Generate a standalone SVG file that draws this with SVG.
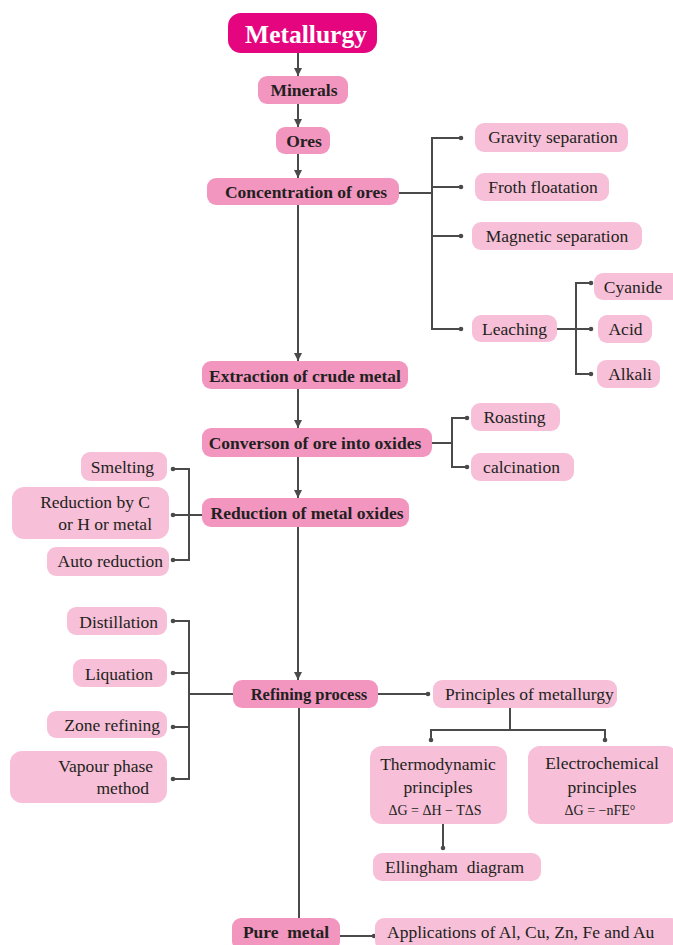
<svg xmlns="http://www.w3.org/2000/svg" width="673" height="945" viewBox="0 0 673 945">
<defs>
<style>
.top{fill:#E5067F}
.main{fill:#F296C0}
.lt{fill:#F7BFD8}
.tt{font-family:"Liberation Serif","Times New Roman",serif;font-weight:bold;font-size:25.5px;fill:#fff;text-anchor:middle}
.b{font-family:"Liberation Serif","Times New Roman",serif;font-weight:bold;font-size:17.5px;fill:#231F20;text-anchor:middle}
.r{font-family:"Liberation Serif","Times New Roman",serif;font-size:17.5px;fill:#231F20;text-anchor:middle}
.re{text-anchor:end}
.rs{text-anchor:start}
.sm{font-size:14px}
.ln{fill:none;stroke:#4A4A4A;stroke-width:2}
.dot{fill:#4A4A4A}
</style>
<marker id="ah" viewBox="0 0 8 8" refX="8" refY="4" markerWidth="8" markerHeight="8" markerUnits="userSpaceOnUse" orient="auto">
<path d="M0,0 L8,4 L0,8 z" fill="#4A4A4A"/>
</marker>
</defs>
<rect width="673" height="945" fill="#fff"/>

<g id="connectors">
<line class="ln" x1="298" y1="53" x2="298" y2="76" marker-end="url(#ah)"/>
<line class="ln" x1="298" y1="104" x2="298" y2="127" marker-end="url(#ah)"/>
<line class="ln" x1="298" y1="154" x2="298" y2="178" marker-end="url(#ah)"/>
<line class="ln" x1="298" y1="205" x2="298" y2="361" marker-end="url(#ah)"/>
<line class="ln" x1="298" y1="389" x2="298" y2="428" marker-end="url(#ah)"/>
<line class="ln" x1="298" y1="457" x2="298" y2="498" marker-end="url(#ah)"/>
<line class="ln" x1="298" y1="527" x2="298" y2="680" marker-end="url(#ah)"/>
<line class="ln" x1="299" y1="708" x2="299" y2="918"/>
<path class="ln" d="M399,193 H432 M461,138 H432 V329 H461 M432,187 H461 M432,236 H461"/>
<path class="ln" d="M557,329 H591 M591,283 H576 V374 H591"/>
<path class="ln" d="M432,443 H452 M467,418 H452 V467 H467"/>
<path class="ln" d="M202,515 H173 M173,469 H189 V560 H173"/>
<path class="ln" d="M233,694 H189 M173,621 H189 V779 H173 M173,673 H189 M173,727 H189"/>
<path class="ln" d="M378,694 H428"/>
<path class="ln" d="M510,708 V730 M431,740 V730 H605 V740"/>
<path class="ln" d="M443,824 V848"/>
<path class="ln" d="M340,936 H374"/>
<g class="dot">
<circle cx="461" cy="138" r="2.3"/><circle cx="461" cy="187" r="2.3"/><circle cx="461" cy="236" r="2.3"/><circle cx="461" cy="329" r="2.3"/>
<circle cx="591" cy="283" r="2.3"/><circle cx="591" cy="329" r="2.3"/><circle cx="591" cy="374" r="2.3"/>
<circle cx="467" cy="418" r="2.3"/><circle cx="467" cy="467" r="2.3"/>
<circle cx="173" cy="469" r="2.3"/><circle cx="173" cy="515" r="2.3"/><circle cx="173" cy="560" r="2.3"/>
<circle cx="173" cy="621" r="2.3"/><circle cx="173" cy="673" r="2.3"/><circle cx="173" cy="727" r="2.3"/><circle cx="173" cy="779" r="2.3"/>
<circle cx="428" cy="694" r="2.3"/>
<circle cx="431" cy="740" r="2.3"/><circle cx="605" cy="740" r="2.3"/>
<circle cx="443" cy="848" r="2.3"/>
<circle cx="374" cy="936" r="2.3"/>
</g>
</g>

<g id="metallurgy"><rect class="top" x="228" y="13" width="149" height="40" rx="13"/><text class="tt" x="306" y="43">Metallurgy</text></g>
<g id="minerals"><rect class="main" x="258" y="76" width="90" height="28" rx="9"/><text class="b" x="304" y="96">Minerals</text></g>
<g id="ores"><rect class="main" x="276" y="127" width="54" height="27" rx="9"/><text class="b" x="304" y="147">Ores</text></g>
<g id="concentration"><rect class="main" x="207" y="178" width="192" height="27" rx="9"/><text class="b" x="306" y="198">Concentration of ores</text></g>
<g id="extraction"><rect class="main" x="202" y="361" width="206" height="28" rx="9"/><text class="b" x="305" y="382">Extraction of crude metal</text></g>
<g id="conversion"><rect class="main" x="202" y="428" width="230" height="29" rx="9"/><text class="b" x="315" y="449">Converson of ore into oxides</text></g>
<g id="reduction"><rect class="main" x="202" y="498" width="207" height="29" rx="9"/><text class="b" x="307" y="519">Reduction of metal oxides</text></g>
<g id="refining"><rect class="main" x="233" y="680" width="145" height="28" rx="9"/><text class="b" x="309" y="700" style="font-size:16.5px">Refining process</text></g>
<g id="pure-metal"><rect class="main" x="232" y="918" width="108" height="32" rx="9"/><text class="b" x="286" y="938" xml:space="preserve">Pure  metal</text></g>

<g id="gravity"><rect class="lt" x="475" y="123" width="153" height="29" rx="9"/><text class="r" x="553" y="143">Gravity separation</text></g>
<g id="froth"><rect class="lt" x="475" y="173" width="134" height="28" rx="9"/><text class="r" x="543" y="193">Froth floatation</text></g>
<g id="magnetic"><rect class="lt" x="472" y="222" width="170" height="28" rx="9"/><text class="r" x="557" y="242">Magnetic separation</text></g>
<g id="leaching"><rect class="lt" x="472" y="315" width="85" height="27" rx="9"/><text class="r" x="514.5" y="335">Leaching</text></g>
<g id="cyanide"><rect class="lt" x="594" y="273" width="90" height="27" rx="9"/><text class="r" x="633" y="293">Cyanide</text></g>
<g id="acid"><rect class="lt" x="598" y="315" width="54" height="28" rx="9"/><text class="r" x="625.5" y="335">Acid</text></g>
<g id="alkali"><rect class="lt" x="597" y="360" width="63" height="28" rx="9"/><text class="r" x="630" y="380">Alkali</text></g>
<g id="roasting"><rect class="lt" x="471" y="403" width="89" height="28" rx="9"/><text class="r" x="514.5" y="423">Roasting</text></g>
<g id="calcination"><rect class="lt" x="471" y="453" width="103" height="28" rx="9"/><text class="r" x="521.5" y="473">calcination</text></g>
<g id="smelting"><rect class="lt" x="81" y="452" width="86" height="29" rx="9"/><text class="r re" x="154" y="473">Smelting</text></g>
<g id="reduction-by-c"><rect class="lt" x="12" y="487" width="157" height="52" rx="12"/><text class="r re" x="150" y="508">Reduction by C</text><text class="r re" x="152" y="530">or H or metal</text></g>
<g id="auto-reduction"><rect class="lt" x="47" y="547" width="122" height="29" rx="9"/><text class="r re" x="163" y="567">Auto reduction</text></g>
<g id="distillation"><rect class="lt" x="67" y="607" width="100" height="28" rx="9"/><text class="r re" x="158" y="628">Distillation</text></g>
<g id="liquation"><rect class="lt" x="73" y="659" width="94" height="28" rx="9"/><text class="r re" x="153" y="680">Liquation</text></g>
<g id="zone-refining"><rect class="lt" x="47" y="711" width="120" height="27" rx="9"/><text class="r re" x="160" y="731">Zone refining</text></g>
<g id="vapour-phase"><rect class="lt" x="10" y="751" width="157" height="52" rx="12"/><text class="r re" x="153" y="772">Vapour phase</text><text class="r re" x="149" y="794">method</text></g>
<g id="principles"><rect class="lt" x="433" y="680" width="184" height="28" rx="9"/><text class="r rs" x="445" y="700">Principles of metallurgy</text></g>
<g id="thermodynamic"><rect class="lt" x="370" y="746" width="137" height="78" rx="12"/><text class="r" x="438" y="770">Thermodynamic</text><text class="r" x="438" y="793">principles</text><text class="r sm" x="435" y="815">ΔG = ΔH − TΔS</text></g>
<g id="electrochemical"><rect class="lt" x="528" y="746" width="150" height="78" rx="12"/><text class="r" x="602" y="769">Electrochemical</text><text class="r" x="602" y="793">principles</text><text class="r sm" x="600" y="815">ΔG = −nFE°</text></g>
<g id="ellingham"><rect class="lt" x="373" y="853" width="168" height="28" rx="9"/><text class="r rs" x="385" y="873" xml:space="preserve">Ellingham  diagram</text></g>
<g id="applications"><rect class="lt" x="375" y="918" width="305" height="32" rx="9"/><text class="r rs" x="387" y="938">Applications of Al, Cu, Zn, Fe and Au</text></g>
</svg>
